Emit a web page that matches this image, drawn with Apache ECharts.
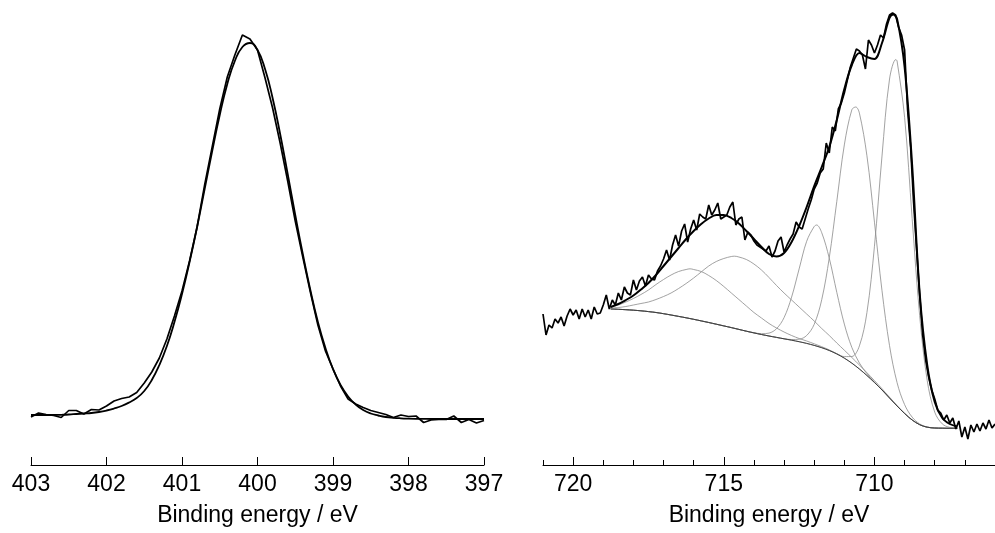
<!DOCTYPE html>
<html>
<head>
<meta charset="utf-8">
<title>XPS spectra</title>
<script src="https://cdn.jsdelivr.net/npm/echarts@6/dist/echarts.min.js"></script>
<style>
  html, body { margin: 0; padding: 0; background: #fff; }
  #box { width: 995px; height: 533px; }
</style>
</head>
<body>
<div id="box"></div>
<script>
// left panel (N 1s)
var n1sEnergy = [
  403.0, 402.9, 402.8, 402.7, 402.6, 402.5, 402.4, 402.3, 402.2, 402.1,
  402.0, 401.9, 401.8, 401.7, 401.6, 401.5, 401.4, 401.3, 401.2, 401.1,
  401.0, 400.9, 400.8, 400.7, 400.6, 400.5, 400.4, 400.3, 400.2, 400.1,
  400.0, 399.9, 399.8, 399.7, 399.6, 399.5, 399.4, 399.3, 399.2, 399.1,
  399.0, 398.9, 398.8, 398.7, 398.6, 398.5, 398.4, 398.3, 398.2, 398.1,
  398.0, 397.9, 397.8, 397.7, 397.6, 397.5, 397.4, 397.3, 397.2, 397.1,
  397.0
];
var n1sData = [
  48, 52, 50.5, 49.5, 47.5, 54.5, 54.5, 51, 55.5, 55,
  59, 64, 66.5, 68, 72.5, 82, 93, 107, 126, 149,
  174, 204, 238, 280, 318, 356, 388, 410, 430, 426,
  415, 387, 357, 322, 284, 244, 208, 173, 140, 114,
  96, 79, 66, 61, 57.5, 54.5, 52.5, 50.5, 47.5, 50,
  48.5, 49, 42.5, 45, 45.5, 45.5, 49, 42.5, 45.5, 42,
  44.5
];
var n1sFit = [
  50, 50, 50, 50, 50.2, 50.5, 51, 51.5, 52, 53,
  54.5, 56.5, 59, 62.5, 67, 74, 85, 100, 119, 143,
  171, 203, 238, 276, 314, 350, 381, 404, 418, 422,
  415, 396, 367, 331, 291, 250, 211, 175, 143, 117,
  96, 80, 68.5, 60.5, 55, 51.5, 49.5, 48, 47.2, 46.7,
  46.4, 46.2, 46.1, 46, 46, 46, 46, 46, 46, 46,
  46
];

// right panel (Fe 2p)
var feEnergy = [
  721.0, 720.9, 720.8, 720.7, 720.6, 720.5, 720.4, 720.3, 720.2, 720.1,
  720.0, 719.9, 719.8, 719.7, 719.6, 719.5, 719.4, 719.3, 719.2, 719.1,
  719.0, 718.9, 718.8, 718.7, 718.6, 718.5, 718.4, 718.3, 718.2, 718.1,
  718.0, 717.9, 717.8, 717.7, 717.6, 717.5, 717.4, 717.3, 717.2, 717.1,
  717.0, 716.9, 716.8, 716.7, 716.6, 716.5, 716.4, 716.3, 716.2, 716.1,
  716.0, 715.9, 715.8, 715.7, 715.6, 715.5, 715.4, 715.3, 715.2, 715.1,
  715.0, 714.9, 714.8, 714.7, 714.6, 714.5, 714.4, 714.3, 714.2, 714.1,
  714.0, 713.9, 713.8, 713.7, 713.6, 713.5, 713.4, 713.3, 713.2, 713.1,
  713.0, 712.9, 712.8, 712.7, 712.6, 712.5, 712.4, 712.3, 712.2, 712.1,
  712.0, 711.9, 711.8, 711.7, 711.6, 711.5, 711.4, 711.3, 711.2, 711.1,
  711.0, 710.9, 710.8, 710.7, 710.6, 710.5, 710.4, 710.3, 710.2, 710.1,
  710.0, 709.9, 709.8, 709.7, 709.6, 709.5, 709.4, 709.3, 709.2, 709.1,
  709.0, 708.9, 708.8, 708.7, 708.6, 708.5, 708.4, 708.3, 708.2, 708.1,
  708.0, 707.9, 707.8, 707.7, 707.6, 707.5, 707.4, 707.3, 707.2, 707.1,
  707.0, 706.9, 706.8, 706.7, 706.6, 706.5, 706.4, 706.3, 706.2, 706.1,
  706.0
];
var feData = [
  151, 130, 140, 137, 146, 142, 148, 139, 149, 156,
  150, 155, 146, 156, 148, 155, 146, 158, 151, 152,
  160, 170, 156, 165, 160, 172, 165, 178, 172, 170,
  185, 175, 184, 188, 179, 190, 186, 185, 194, 199,
  206, 215, 205, 220, 230, 219, 234, 241, 223, 236,
  245, 235, 251, 248, 246, 260, 250, 255, 262, 246,
  248, 250, 258, 263, 240, 246, 248, 225, 233, 230,
  224, 220, 218, 216, 214, 219, 208, 214, 224, 228,
  213, 220, 226, 231, 243, 238, 236, 246, 256, 265,
  276, 282, 292, 296, 322, 312, 338, 334, 356, 362,
  372, 385, 398, 407, 416, 414, 410, 396, 425, 420,
  412, 420, 430, 427, 441, 450, 452, 450, 438, 430,
  415, 355, 318, 262, 215, 170, 130, 105, 88, 75,
  66, 55, 52, 45, 50, 42, 47, 36, 44, 28,
  38, 26, 40, 33, 41, 34, 42, 36, 45, 37,
  41
];

var fitEnergy = [
  718.75, 718.5, 718.25,
  718.0, 717.75, 717.5, 717.25,
  717.0, 716.75, 716.5, 716.25,
  716.0, 715.75, 715.5, 715.25,
  715.0, 714.75, 714.5, 714.25,
  714.0, 713.75, 713.5, 713.25,
  713.0, 712.75, 712.5, 712.25,
  712.0, 711.75, 711.5, 711.25,
  711.0, 710.75, 710.5, 710.25,
  710.0, 709.75, 709.5, 709.25,
  709.0, 708.75, 708.5, 708.25,
  708.0, 707.75, 707.5, 707.25
];
var feBackground = [
  156.0, 155.7, 155.3,
  154.8, 154.2, 153.4, 152.5,
  151.3, 150.0, 148.6, 147.2,
  145.7, 144.1, 142.5, 140.8,
  139.1, 137.4, 135.6, 133.8,
  132.1, 130.5, 129.0, 127.6,
  126.2, 124.8, 123.3, 121.6,
  119.6, 117.3, 114.5, 111.0,
  106.8, 101.8, 96.0, 89.5,
  82.5, 75.0, 67.0, 59.0,
  51.5, 45.0, 40.3, 37.8,
  37.0, 36.8, 36.7, 36.7
];
var fePeak1 = [
  158.0, 160.0, 163.0,
  166.5, 170.5, 175.0, 180.5,
  185.5, 190.0, 193.5, 195.5,
  195.5, 193.5, 189.5, 184.5,
  178.5, 172.0, 165.5, 159.0,
  152.5, 147.0, 141.5, 137.0,
  133.0, 129.5, 126.5, 124.0,
  121.2, 118.3, 115.1, 111.3,
  107.0, 101.9, 96.0, 89.5,
  82.5, 75.0, 67.0, 59.0,
  51.5, 45.0, 40.3, 37.8,
  37.0, 36.8, 36.7, 36.7
];
var fePeak2 = [
  157.0, 157.5, 158.5,
  160.0, 161.5, 163.0, 165.5,
  168.5, 172.0, 176.5, 181.5,
  187.0, 193.0, 199.0, 203.5,
  206.5, 208.5, 208.0, 205.5,
  201.0, 195.0, 187.5, 179.5,
  172.0, 165.0, 158.0, 151.0,
  144.0, 136.5, 129.5, 122.0,
  114.8, 107.5, 100.0, 92.3,
  84.4, 76.3, 67.8, 59.5,
  51.8, 45.2, 40.4, 37.8,
  37.0, 36.8, 36.7, 36.7
];
var fePeak3 = [
  156.0, 155.7, 155.3,
  154.8, 154.2, 153.4, 152.5,
  151.3, 150.0, 148.6, 147.2,
  145.7, 144.1, 142.5, 140.8,
  139.1, 137.4, 135.6, 133.8,
  132.3, 131.3, 131.9, 136.3,
  147.4, 167.9, 196.1, 223.7,
  238.5, 232.3, 206.8, 172.6,
  140.9, 117.5, 102.0, 91.4,
  83.0, 75.1, 67.0, 59.0,
  51.5, 45.0, 40.3, 37.8,
  37.0, 36.8, 36.7, 36.7
];
var fePeak4 = [
  156.0, 155.7, 155.3,
  154.8, 154.2, 153.4, 152.5,
  151.3, 150.0, 148.6, 147.2,
  145.7, 144.1, 142.5, 140.8,
  139.1, 137.4, 135.6, 133.8,
  132.1, 130.5, 129.0, 127.6,
  126.2, 125.5, 125.8, 129.5,
  140.7, 165.3, 207.3, 263.6,
  320.1, 355.3, 351.9, 309.2,
  242.8, 174.3, 119.3, 82.4,
  60.4, 47.9, 41.1, 38.0,
  37.0, 36.8, 36.7, 36.7
];
var fePeak5 = [
  156.0, 155.7, 155.3,
  154.8, 154.2, 153.4, 152.5,
  151.3, 150.0, 148.6, 147.2,
  145.7, 144.1, 142.5, 140.8,
  139.1, 137.4, 135.6, 133.8,
  132.1, 130.5, 129.0, 127.6,
  126.2, 124.8, 123.3, 121.6,
  119.6, 117.3, 114.5, 111.3,
  108.4, 108.5, 119.1, 152.5,
  218.8, 309.0, 386.0, 404.0,
  347.7, 246.7, 149.3, 84.6,
  52.9, 41.1, 37.6, 36.9
];
var feEnvelope = [
  158, 161, 165,
  169.5, 175.5, 182, 190,
  199, 208, 217, 226,
  234, 241, 246.5, 250,
  250, 247, 241.5, 234,
  226, 218, 211, 208.5,
  212, 223, 239, 258,
  279, 298, 318, 345,
  376, 400, 412, 408,
  406, 422, 447, 446,
  398, 300, 172, 100,
  63, 47, 41, 38.5
];
// apex of each fitted curve: [energy, value]
var peak1Top = [716.12, 196.2];
var peak2Top = [714.64, 208.8];
var peak3Top = [711.92, 240.0];
var peak4Top = [710.62, 358.0];
var peak5Top = [709.29, 405.5];
var envelopeTop = [709.38, 450.5];

var axisTitle = 'Binding energy / eV';
var font = "'Liberation Sans', Arial, sans-serif";

function pairs(xs, ys) {
  return xs.map(function (x, i) { return [x, ys[i]]; });
}

function thinLine(name, values, top, color, width) {
  var pts = pairs(fitEnergy, values);
  if (top) {
    pts.push(top);
    pts.sort(function (a, b) { return b[0] - a[0]; });
  }
  return {
    name: name,
    type: 'line',
    xAxisIndex: 1,
    yAxisIndex: 1,
    smooth: 0.35,
    symbol: 'none',
    lineStyle: { color: color, width: width },
    data: pts
  };
}

var chartDom = document.getElementById('box');
var myChart = echarts.init(chartDom);
var option;

var tickStyle = { color: '#000', width: 1 };
var labelStyle = { color: '#000', fontSize: 23, fontFamily: font, margin: 8 };
var nameStyle = { color: '#000', fontSize: 23, fontFamily: font };

option = {
  animation: false,
  backgroundColor: '#fff',
  grid: [
    { left: 31, top: 0, width: 453, height: 465 },
    { left: 543, top: 0, width: 452, height: 465 },
    { left: 573.13, top: 0, width: 301.33, height: 465 }
  ],
  xAxis: [
    {
      gridIndex: 0,
      type: 'value',
      min: 397,
      max: 403,
      interval: 1,
      inverse: true,
      axisLine: { onZero: false, lineStyle: tickStyle },
      axisTick: { inside: true, length: 8, lineStyle: tickStyle },
      axisLabel: Object.assign({ showMinLabel: true, showMaxLabel: true }, labelStyle),
      splitLine: { show: false },
      name: axisTitle,
      nameLocation: 'middle',
      nameGap: 39,
      nameTextStyle: nameStyle
    },
    {
      gridIndex: 1,
      type: 'value',
      min: 706,
      max: 721,
      interval: 1,
      inverse: true,
      axisLine: { onZero: false, lineStyle: tickStyle },
      axisTick: { inside: true, length: 5, lineStyle: tickStyle },
      axisLabel: { show: false },
      splitLine: { show: false },
      name: axisTitle,
      nameLocation: 'middle',
      nameGap: 39,
      nameTextStyle: nameStyle
    },
    {
      gridIndex: 2,
      type: 'value',
      min: 710,
      max: 720,
      interval: 5,
      inverse: true,
      axisLine: { show: false, onZero: false },
      axisTick: { inside: true, length: 8, lineStyle: tickStyle },
      axisLabel: Object.assign({ showMinLabel: true, showMaxLabel: true }, labelStyle),
      splitLine: { show: false }
    }
  ],
  yAxis: [
    { gridIndex: 0, type: 'value', min: 0, max: 465, show: false },
    { gridIndex: 1, type: 'value', min: 0, max: 465, show: false },
    { gridIndex: 2, type: 'value', min: 0, max: 465, show: false }
  ],
  series: [
    {
      name: 'N 1s data',
      type: 'line',
      xAxisIndex: 0,
      yAxisIndex: 0,
      symbol: 'none',
      lineStyle: { color: '#000', width: 1.7 },
      data: pairs(n1sEnergy, n1sData)
    },
    {
      name: 'N 1s fit',
      type: 'line',
      xAxisIndex: 0,
      yAxisIndex: 0,
      smooth: true,
      symbol: 'none',
      lineStyle: { color: '#000', width: 1.8 },
      data: pairs(n1sEnergy, n1sFit)
    },
    thinLine('peak 1', fePeak1, peak1Top, '#8a8a8a', 0.8),
    thinLine('peak 2', fePeak2, peak2Top, '#8a8a8a', 0.8),
    thinLine('peak 3', fePeak3, peak3Top, '#8a8a8a', 0.8),
    thinLine('peak 4', fePeak4, peak4Top, '#8a8a8a', 0.8),
    thinLine('peak 5', fePeak5, peak5Top, '#8a8a8a', 0.8),
    thinLine('background', feBackground, null, '#333', 0.9),
    {
      name: 'Fe 2p data',
      type: 'line',
      xAxisIndex: 1,
      yAxisIndex: 1,
      symbol: 'none',
      lineStyle: { color: '#000', width: 1.7 },
      data: pairs(feEnergy, feData)
    },
    thinLine('envelope', feEnvelope, envelopeTop, '#000', 2)
  ]
};
option && myChart.setOption(option);
</script>
</body>
</html>
